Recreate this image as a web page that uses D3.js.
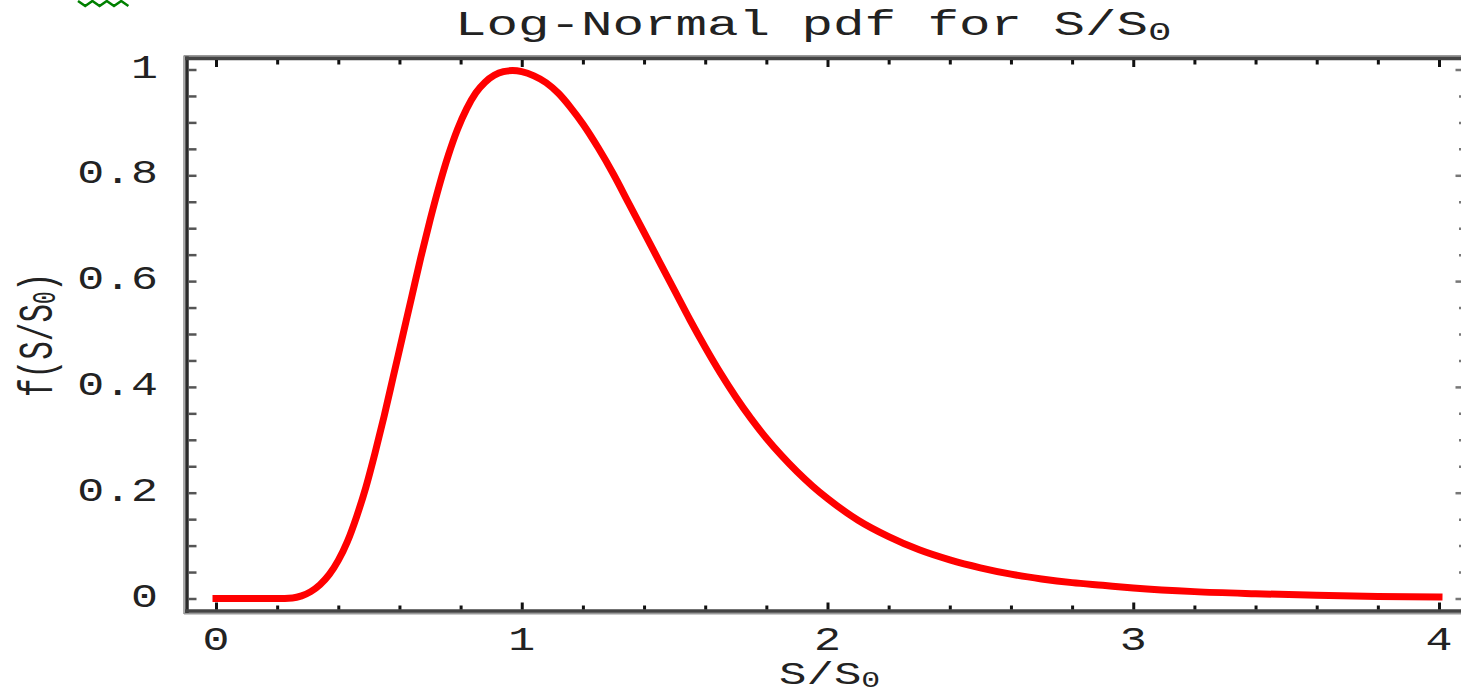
<!DOCTYPE html>
<html>
<head>
<meta charset="utf-8">
<script src="https://cdn.jsdelivr.net/npm/d3@7"></script>
<style>
  html, body { margin: 0; padding: 0; background: #fff; }
  svg { display: block; }
  text { font-family: "Courier New", "Liberation Mono", monospace; fill: #222; }
</style>
</head>
<body>
<svg id="chart" width="1461" height="694"></svg>
<script>
// ---- data ----
const xValues = [0, 0.1, 0.2, 0.25, 0.28, 0.31, 0.34, 0.37, 0.40, 0.43, 0.46, 0.49, 0.52, 0.55, 0.58, 0.61, 0.64, 0.67, 0.70, 0.73, 0.76, 0.79, 0.82, 0.85, 0.88, 0.91, 0.94, 0.97, 1.00, 1.04, 1.08, 1.12, 1.16, 1.20, 1.25, 1.30, 1.35, 1.40, 1.45, 1.50, 1.55, 1.60, 1.65, 1.70, 1.75, 1.80, 1.85, 1.90, 1.95, 2.00, 2.10, 2.20, 2.30, 2.40, 2.50, 2.60, 2.70, 2.80, 2.90, 3.00, 3.20, 3.40, 3.60, 3.80, 4.00];
const pdfValues = [0, 0, 0, 0.001, 0.005, 0.013, 0.026, 0.045, 0.072, 0.108, 0.155, 0.21, 0.275, 0.345, 0.42, 0.495, 0.57, 0.645, 0.715, 0.78, 0.838, 0.887, 0.926, 0.956, 0.976, 0.989, 0.996, 0.998, 0.996, 0.988, 0.975, 0.955, 0.928, 0.897, 0.852, 0.802, 0.747, 0.692, 0.637, 0.582, 0.527, 0.475, 0.426, 0.381, 0.34, 0.303, 0.27, 0.24, 0.213, 0.189, 0.148, 0.117, 0.092, 0.073, 0.058, 0.046, 0.037, 0.030, 0.025, 0.020, 0.013, 0.009, 0.006, 0.004, 0.003];
const xTickLabels = ["0", "1", "2", "3", "4"];
const yTickLabels = ["0", "0.2", "0.4", "0.6", "0.8", "1"];
const titleMain = "Log-Normal pdf for S/S";
const titleSub = "0";
const xLabelMain = "S/S";
const yLabelMain = "f(S/S";

// ---- layout ----
const svg = d3.select("#chart");
const frame = { left: 187, right: 1464, top: 58.5, bottom: 611 };
const x = d3.scaleLinear().domain([0, 4]).range([216, 1439]);
const y = d3.scaleLinear().domain([0, 1]).range([598.5, 69.5]);

svg.append("rect").attr("width", 1461).attr("height", 694).attr("fill", "#fff");

// green squiggle remnant at top-left
svg.append("path")
  .attr("d", d3.line()(d3.range(0, 8).map(i => [78 + i * 7.2, i % 2 === 0 ? 1 : 6])))
  .attr("fill", "none").attr("stroke", "#008000").attr("stroke-width", 2.5);

// ---- frame ----
const g = svg.append("g");
g.append("line").attr("x1", frame.left - 3).attr("x2", frame.left - 3).attr("y1", frame.top - 3).attr("y2", frame.bottom + 3)
  .attr("stroke", "#aaa").attr("stroke-width", 2);
g.append("line").attr("x1", frame.left - 3).attr("x2", 1461).attr("y1", frame.bottom + 2.6).attr("y2", frame.bottom + 2.6)
  .attr("stroke", "#999").attr("stroke-width", 2);
g.append("line").attr("x1", frame.left - 3).attr("x2", 1461).attr("y1", frame.top - 2.5).attr("y2", frame.top - 2.5)
  .attr("stroke", "#999").attr("stroke-width", 2);
g.append("line").attr("x1", frame.left).attr("x2", frame.left).attr("y1", frame.top - 2).attr("y2", frame.bottom + 2)
  .attr("stroke", "#2a2a2a").attr("stroke-width", 3.5);
g.append("line").attr("x1", frame.left - 2).attr("x2", 1461).attr("y1", frame.bottom).attr("y2", frame.bottom)
  .attr("stroke", "#444").attr("stroke-width", 3.5);
g.append("line").attr("x1", frame.left - 2).attr("x2", 1461).attr("y1", frame.top).attr("y2", frame.top)
  .attr("stroke", "#444").attr("stroke-width", 3.5);
g.append("line").attr("x1", frame.right).attr("x2", frame.right).attr("y1", frame.top).attr("y2", frame.bottom)
  .attr("stroke", "#444").attr("stroke-width", 3.5);

// ---- ticks via d3 axes ----
const xTicks = d3.range(0, 21).map(i => i * 0.2);
const isMajorX = v => Math.abs(v - Math.round(v)) < 1e-6;
const yTicks = d3.range(0, 21).map(i => i * 0.05);
const isMajorY = v => Math.abs(v * 5 - Math.round(v * 5)) < 1e-6;

function styleTicks(sel, color, width) {
  sel.select(".domain").remove();
  sel.selectAll(".tick text").remove();
  sel.selectAll(".tick line").attr("stroke", color).attr("stroke-width", width);
}

const axB = svg.append("g").attr("transform", `translate(0,${frame.bottom - 1.5})`)
  .call(d3.axisTop(x).tickValues(xTicks).tickSizeOuter(0).tickSize(4));
styleTicks(axB, "#111", 3);
axB.selectAll(".tick line").attr("y2", d => isMajorX(d) ? -7 : -4);

const axT = svg.append("g").attr("transform", `translate(0,${frame.top + 1.5})`)
  .call(d3.axisBottom(x).tickValues(xTicks).tickSizeOuter(0).tickSize(4));
styleTicks(axT, "#111", 3);
axT.selectAll(".tick line").attr("y2", d => isMajorX(d) ? 7 : 4.5);

const axL = svg.append("g").attr("transform", `translate(${frame.left + 1.5},0)`)
  .call(d3.axisRight(y).tickValues(yTicks).tickSizeOuter(0).tickSize(8));
styleTicks(axL, "#555", 2.5);

const axR = svg.append("g").attr("transform", `translate(${frame.right - 1.5},0)`)
  .call(d3.axisLeft(y).tickValues(yTicks).tickSizeOuter(0).tickSize(4));
styleTicks(axR, "#777", 2.5);
axR.selectAll(".tick line").attr("x2", d => isMajorY(d) ? -7 : -3.5);

// ---- tick labels ----
function stretchedText(parent, str, px, py, size, sx, anchor) {
  return parent.append("text")
    .attr("transform", `translate(${px},${py}) scale(${sx},1)`)
    .attr("text-anchor", anchor)
    .attr("font-size", size)
    .text(str);
}
const labels = svg.append("g");
xTickLabels.forEach(t => stretchedText(labels, t, x(+t), 650, 33, 1.36, "middle"));
yTickLabels.forEach(t => stretchedText(labels, t, 158, y(+t) + 8, 33, 1.36, "end"));

// ---- title ----
const title = svg.append("text")
  .attr("transform", "translate(455,35) scale(1.5,1)")
  .attr("font-size", 35);
title.append("tspan").text(titleMain);
title.append("tspan").attr("font-size", 26).attr("dy", 5).text(titleSub);

// ---- x axis label ----
const xl = svg.append("text")
  .attr("transform", "translate(779,684) scale(1.43,1)")
  .attr("font-size", 32);
xl.append("tspan").text(xLabelMain);
xl.append("tspan").attr("font-size", 22).attr("dy", 2.5).text("0");

// ---- y axis label ----
const yl = svg.append("text")
  .attr("transform", "translate(52,397) scale(1.55,1) rotate(-90)")
  .attr("font-size", 31);
yl.append("tspan").text(yLabelMain);
yl.append("tspan").attr("font-size", 21).attr("dy", 2).text("0");
yl.append("tspan").attr("dy", -2).text(")");

// ---- curve ----
const data = xValues.map((v, i) => [v, pdfValues[i]]);
svg.append("path")
  .datum(data)
  .attr("d", d3.line().x(d => x(d[0])).y(d => y(d[1])).curve(d3.curveMonotoneX))
  .attr("fill", "none")
  .attr("stroke", "#ff0000")
  .attr("stroke-width", 7)
  .attr("stroke-linecap", "square")
  .attr("stroke-linejoin", "round");
</script>
</body>
</html>
